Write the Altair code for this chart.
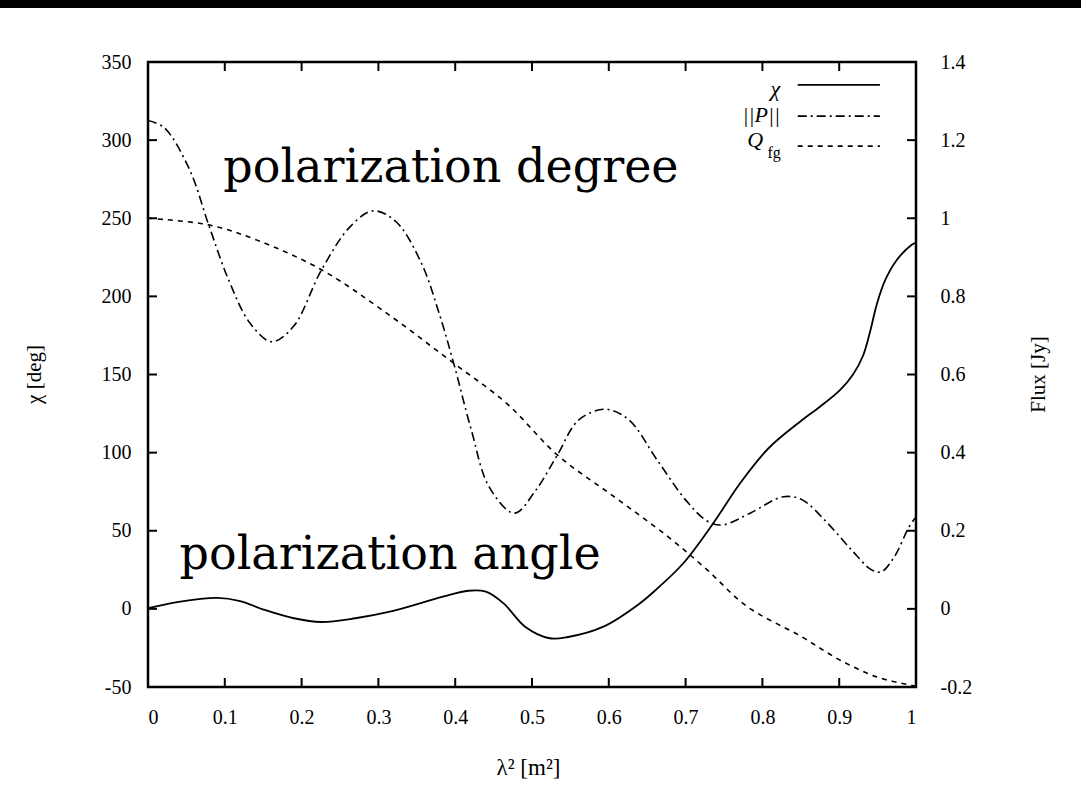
import altair as alt
import pandas as pd

# ---- data ----
chi_x = [0.0, 0.04, 0.09, 0.12, 0.152, 0.19, 0.225, 0.27, 0.315, 0.384, 0.417, 0.44, 0.463, 0.491,
         0.523, 0.547, 0.593, 0.639, 0.662, 0.697, 0.736, 0.771, 0.808, 0.849, 0.875, 0.901,
         0.918, 0.931, 0.940, 0.949, 0.960, 0.975, 0.994, 1.0]
chi_y = [0.4, 4.5, 7.0, 5.0, -0.7, -6.0, -8.4, -6.0, -1.8, 7.8, 11.6, 11.0, 3.5, -11.4,
         -18.8, -18.0, -11.4, 3.0, 12.5, 29.2, 54.8, 80.4, 102.8, 119.8, 129.4, 140.0,
         150.0, 162.0, 177.0, 195.0, 210.5, 223.3, 232.9, 234.5]

p_x = [0.0, 0.021, 0.054, 0.079, 0.105, 0.133, 0.161, 0.189, 0.226, 0.263, 0.293, 0.323, 0.356,
       0.379, 0.398, 0.421, 0.444, 0.477, 0.505, 0.533, 0.561, 0.596, 0.626, 0.663, 0.70, 0.728,
       0.748, 0.784, 0.827, 0.852, 0.885, 0.916, 0.942, 0.955, 0.972, 0.991, 1.0]
p_y = [1.25, 1.232, 1.125, 0.983, 0.842, 0.731, 0.684, 0.722, 0.868, 0.978, 1.019, 0.991, 0.885,
       0.757, 0.629, 0.458, 0.313, 0.245, 0.304, 0.394, 0.484, 0.511, 0.484, 0.381, 0.279, 0.225,
       0.215, 0.245, 0.287, 0.279, 0.219, 0.151, 0.10, 0.095, 0.134, 0.210, 0.235]

q_x = [0.0, 0.079, 0.142, 0.226, 0.305, 0.398, 0.467, 0.533, 0.607, 0.677, 0.728, 0.78, 0.85,
       0.9, 0.95, 1.0]
q_y = [1.0, 0.983, 0.944, 0.868, 0.765, 0.629, 0.526, 0.394, 0.287, 0.185, 0.10, 0.006, -0.07,
       -0.13, -0.175, -0.198]

x_ticks = [0, 0.1, 0.2, 0.3, 0.4, 0.5, 0.6, 0.7, 0.8, 0.9, 1]
chi_ticks = [-50, 0, 50, 100, 150, 200, 250, 300, 350]
flux_ticks = [-0.2, 0, 0.2, 0.4, 0.6, 0.8, 1.0, 1.2, 1.4]

annot_text = ["polarization degree", "polarization angle"]
annot_x = [0.098, 0.041]
annot_y = [273.0, 25.5]

legend_labels = ["χ", "||P||", "Q"]
legend_lx = [0.823, 0.823, 0.801]
legend_ly = [333.0, 316.0, 300.0]
legend_x1 = [0.846, 0.846, 0.846]
legend_x2 = [0.953, 0.953, 0.953]
legend_y = [335.3, 315.4, 296.2]
legend_dash = [[1, 0], [9, 4, 2, 4], [5, 5]]

W, H = 768, 625
SERIF = "Liberation Serif"
LBL = "'' + datum.value"

xs = alt.Scale(domain=[0, 1], nice=False)
chi_scale = alt.Scale(domain=[-50, 350], nice=False, zero=False)
flux_scale = alt.Scale(domain=[-0.2, 1.4], nice=False, zero=False)

chi_df = pd.DataFrame({"x": chi_x, "y": chi_y})
p_df = pd.DataFrame({"x": p_x, "y": p_y})
q_df = pd.DataFrame({"x": q_x, "y": q_y})

x_axis = alt.Axis(values=x_ticks, ticks=False, domain=False, grid=False, labelFont=SERIF,
                  labelFontSize=20, labelPadding=20, labelColor="black", labelExpr=LBL,
                  title="λ² [m²]", titleFont=SERIF, titleFontSize=23, titleFontWeight="normal",
                  titleColor="black", titleX=380, titleY=80, titleBaseline="middle")
chi_axis = alt.Axis(values=chi_ticks, ticks=False, domain=False, grid=False, labelFont=SERIF,
                    labelFontSize=20, labelPadding=17, labelColor="black", orient="left",
                    labelExpr=LBL,
                    title="χ [deg]", titleFont=SERIF, titleFontSize=21, titleFontWeight="normal",
                    titleColor="black", titleX=-114, titleY=312, titleAngle=270,
                    titleBaseline="middle", titleAlign="center")
flux_axis = alt.Axis(values=flux_ticks, ticks=False, domain=False, grid=False, labelFont=SERIF,
                     labelFontSize=20, labelPadding=24, labelColor="black", orient="right",
                     labelExpr=LBL,
                     title="Flux [Jy]", titleFont=SERIF, titleFontSize=21, titleFontWeight="normal",
                     titleColor="black", titleX=122, titleY=312, titleAngle=270,
                     titleBaseline="middle", titleAlign="center")

chi_line = alt.Chart(chi_df).mark_line(color="black", strokeWidth=1.8, interpolate="catmull-rom").encode(
    x=alt.X("x:Q", scale=xs, axis=x_axis),
    y=alt.Y("y:Q", scale=chi_scale, axis=chi_axis),
)

# inward ticks
xt_df = pd.DataFrame({"x": x_ticks})
xt_bottom = alt.Chart(xt_df).mark_rule(color="black", strokeWidth=2).encode(
    x=alt.X("x:Q", scale=xs), y=alt.value(H), y2=alt.value(H - 9))
xt_top = alt.Chart(xt_df).mark_rule(color="black", strokeWidth=2).encode(
    x=alt.X("x:Q", scale=xs), y=alt.value(0), y2=alt.value(9))
ct_df = pd.DataFrame({"y": chi_ticks})
ct_left = alt.Chart(ct_df).mark_rule(color="black", strokeWidth=2).encode(
    y=alt.Y("y:Q", scale=chi_scale), x=alt.value(0), x2=alt.value(9))

annot_df = pd.DataFrame({"t": annot_text, "x": annot_x, "y": annot_y})
annot = alt.Chart(annot_df).mark_text(font="DejaVu Serif", fontSize=46, align="left",
                                      baseline="alphabetic", color="black").encode(
    x=alt.X("x:Q", scale=xs), y=alt.Y("y:Q", scale=chi_scale), text="t:N")

leg_text_df = pd.DataFrame({"t": legend_labels, "x": legend_lx, "y": legend_ly})
leg_text = alt.Chart(leg_text_df).mark_text(font=SERIF, fontSize=22, fontStyle="italic",
                                            align="right", baseline="middle", color="black").encode(
    x=alt.X("x:Q", scale=xs), y=alt.Y("y:Q", scale=chi_scale), text="t:N")
sub_df = pd.DataFrame({"t": ["fg"], "x": [0.824], "y": [292.0]})
leg_sub = alt.Chart(sub_df).mark_text(font=SERIF, fontSize=16, align="right",
                                      baseline="middle", color="black").encode(
    x=alt.X("x:Q", scale=xs), y=alt.Y("y:Q", scale=chi_scale), text="t:N")

leg_lines = []
for i in range(3):
    d = pd.DataFrame({"x": [legend_x1[i]], "x2": [legend_x2[i]], "y": [legend_y[i]]})
    leg_lines.append(alt.Chart(d).mark_rule(color="black", strokeWidth=1.8,
                                             strokeDash=legend_dash[i]).encode(
        x=alt.X("x:Q", scale=xs), x2="x2:Q", y=alt.Y("y:Q", scale=chi_scale)))

# black band at very top of the page
band = alt.Chart(pd.DataFrame({"a": [0]})).mark_rect(color="black").encode(
    x=alt.value(-148), x2=alt.value(1081 - 148), y=alt.value(-62), y2=alt.value(-54))

left = alt.layer(band, chi_line, xt_bottom, xt_top, ct_left, annot, leg_text, leg_sub, *leg_lines)

p_line = alt.Chart(p_df).mark_line(color="black", strokeWidth=1.6, strokeDash=[9, 4, 2, 4],
                                   interpolate="catmull-rom").encode(
    x=alt.X("x:Q", scale=xs),
    y=alt.Y("y:Q", scale=flux_scale, axis=flux_axis),
)
q_line = alt.Chart(q_df).mark_line(color="black", strokeWidth=1.6, strokeDash=[5, 5],
                                   interpolate="catmull-rom").encode(
    x=alt.X("x:Q", scale=xs),
    y=alt.Y("y:Q", scale=flux_scale),
)
ft_df = pd.DataFrame({"y": flux_ticks})
ft_right = alt.Chart(ft_df).mark_rule(color="black", strokeWidth=2).encode(
    y=alt.Y("y:Q", scale=flux_scale), x=alt.value(W), x2=alt.value(W - 9))

right = alt.layer(p_line, q_line, ft_right)

chart = alt.layer(left, right).resolve_scale(y="independent").properties(
    width=W, height=H,
    autosize=alt.AutoSizeParams(type="none"),
    padding={"left": 148, "top": 62, "right": 1081 - 148 - W, "bottom": 793 - 62 - H},
    background="white",
).configure_view(stroke="black", strokeWidth=2.5)

chart.save("out.html", embed_options={"renderer": "svg", "actions": False})
